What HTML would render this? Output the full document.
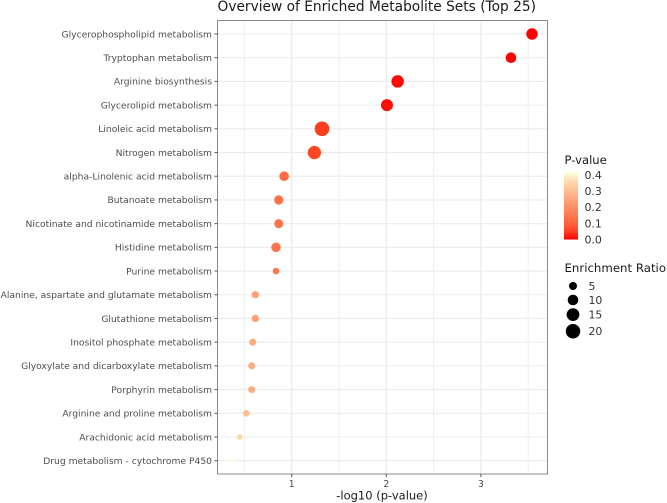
<!DOCTYPE html>
<html>
<head>
<meta charset="utf-8">
<title>Overview of Enriched Metabolite Sets (Top 25)</title>
<style>
html,body{margin:0;padding:0;background:#fff;}
svg{display:block;font-family:"DejaVu Sans","Liberation Sans",sans-serif;filter:blur(0.3px);}
</style>
</head>
<body>
<svg id="chart" xmlns="http://www.w3.org/2000/svg" width="667" height="503" viewBox="0 0 667 503">
<defs><linearGradient id="pgrad" x1="0" y1="1" x2="0" y2="0"></linearGradient></defs>
<rect x="0" y="0" width="667" height="503" fill="#fff"/>
<text x="217.5" y="11" font-size="13.75" fill="#1a1a1a">Overview of Enriched Metabolite Sets (Top 25)</text>
<g id="grid"></g>
<g id="points"></g>
<rect x="217.5" y="20.5" width="330" height="453.5" fill="none" stroke="#8a8a8a" stroke-width="1"/>
<g id="yaxis"></g>
<g id="xaxis"></g>
<text x="382" y="499.5" text-anchor="middle" font-size="11.5" fill="#1a1a1a">-log10 (p-value)</text>
<g id="legend"></g>
</svg>
<script>
var categories = ["Glycerophospholipid metabolism","Tryptophan metabolism","Arginine biosynthesis","Glycerolipid metabolism","Linoleic acid metabolism","Nitrogen metabolism","alpha-Linolenic acid metabolism","Butanoate metabolism","Nicotinate and nicotinamide metabolism","Histidine metabolism","Purine metabolism","Alanine, aspartate and glutamate metabolism","Glutathione metabolism","Inositol phosphate metabolism","Glyoxylate and dicarboxylate metabolism","Porphyrin metabolism","Arginine and proline metabolism","Arachidonic acid metabolism","Drug metabolism - cytochrome P450"];
var logP = [3.54,3.318,2.12,2.007,1.32,1.24,0.92,0.863,0.863,0.834,0.834,0.615,0.615,0.588,0.577,0.577,0.52,0.45,0.376];
var enrichment = [12,10,14.5,13.3,20.6,16.6,8,7.3,6.8,8,3,4,4,3.5,3.5,3.5,3,1.8,0.3];
var xTicks = [1,2,3];
var xMinorTicks = [0.5,1.5,2.5,3.5];
var pTicks = [0.4,0.3,0.2,0.1,0.0];
var sizeTicks = [5,10,15,20];

var NS = "http://www.w3.org/2000/svg";
function mk(parent, tag, attrs, txt){
  var e = document.createElementNS(NS, tag);
  for (var k in attrs) e.setAttribute(k, attrs[k]);
  if (txt !== undefined) e.textContent = txt;
  parent.appendChild(e);
  return e;
}
function xScale(v){ return 291.7 + (v - 1) * 94.6; }
function yScale(i){ return 34 + i * (460.7 - 34) / (categories.length - 1); }
function sizeScale(r){ return Math.sqrt(15 + 9.73 * r) / 2; }
var colorP = [0,0.05,0.1,0.2,0.3,0.36,0.42];
var colorRGB = [[255,0,0],[255,66,32],[255,98,58],[255,142,102],[255,189,144],[255,218,174],[255,255,224]];
function colorScale(p){
  if (p >= colorP[colorP.length-1]) return "rgb(255,255,224)";
  for (var i = 1; i < colorP.length; i++){
    if (p <= colorP[i]){
      var t = (p - colorP[i-1]) / (colorP[i] - colorP[i-1]);
      var a = colorRGB[i-1], b = colorRGB[i];
      return "rgb(" + [0,1,2].map(function(j){ return Math.round(a[j] + (b[j]-a[j]) * t); }).join(",") + ")";
    }
  }
}
var grid = document.getElementById("grid");
var pts = document.getElementById("points");
var yaxis = document.getElementById("yaxis");
var xaxis = document.getElementById("xaxis");
var legend = document.getElementById("legend");

xMinorTicks.forEach(function(v){
  var l = mk(grid, "line", {x1:xScale(v), x2:xScale(v), y1:20, y2:474, stroke:"#efefef", "stroke-width":1});
  
  
});
xTicks.forEach(function(v){
  var l = mk(grid, "line", {x1:xScale(v), x2:xScale(v), y1:20, y2:474, stroke:"#e6e6e6", "stroke-width":1.1});
  
  
  var t = mk(xaxis, "line", {x1:xScale(v), x2:xScale(v), y1:474, y2:477, stroke:"#555", "stroke-width":1});
  
  
  var s = mk(xaxis, "text", {x:xScale(v), y:487, "text-anchor":"middle", "font-size":"9.3", fill:"#4d4d4d"}, String(v));
  
  
});
categories.forEach(function(c, i){
  var y = yScale(i);
  var l = mk(grid, "line", {x1:217.5, x2:547.5, y1:y, y2:y, stroke:"#ececec", "stroke-width":1.1});
  
  
  var t = mk(yaxis, "line", {x1:214.5, x2:217.5, y1:y, y2:y, stroke:"#555", "stroke-width":1});
  
  
  var s = mk(yaxis, "text", {x:212, y:y + 3.3, "text-anchor":"end", "font-size":"9.19", fill:"#4d4d4d"}, c);
  
  
  var d = mk(pts, "circle", {cx:xScale(logP[i]), cy:y, r:sizeScale(enrichment[i]), fill:colorScale(Math.pow(10, -logP[i]))});
  
  
});

/* colour legend */
var grad = document.getElementById("pgrad");
for (var g = 0; g <= 20; g++){
  mk(grad, "stop", {offset:(g/20), "stop-color":colorScale(0.42 * g / 20)});
}
function pY(p){ return 239.5 - p * 160.5; }
var lt = mk(legend, "text", {x:564.5, y:164, "font-size":"11.6", fill:"#1a1a1a"}, "P-value");


var bar = mk(legend, "rect", {x:564, y:pY(0.42), width:14, height:pY(0) - pY(0.42), fill:"url(#pgrad)"});


pTicks.forEach(function(p){
  var s = mk(legend, "text", {x:584.5, y:pY(p) + 3.8, "font-size":"10.9", fill:"#333"}, p.toFixed(1));
  
  
});

/* size legend */
var st = mk(legend, "text", {x:564.5, y:272, "font-size":"11.75", fill:"#1a1a1a"}, "Enrichment Ratio");


var legendY = 286;
sizeTicks.forEach(function(r, i){
  var rad = sizeScale(r);
  if (i > 0) legendY += sizeScale(sizeTicks[i-1]) + rad + (i === 1 ? 4.7 : 3);
  var c = mk(legend, "circle", {cx:573, cy:legendY, r:rad, fill:"#000"});
  
  
  var s = mk(legend, "text", {x:588.5, y:legendY + 3.8, "font-size":"10.9", fill:"#333"}, String(r));
  
  
});
</script>
</body>
</html>
